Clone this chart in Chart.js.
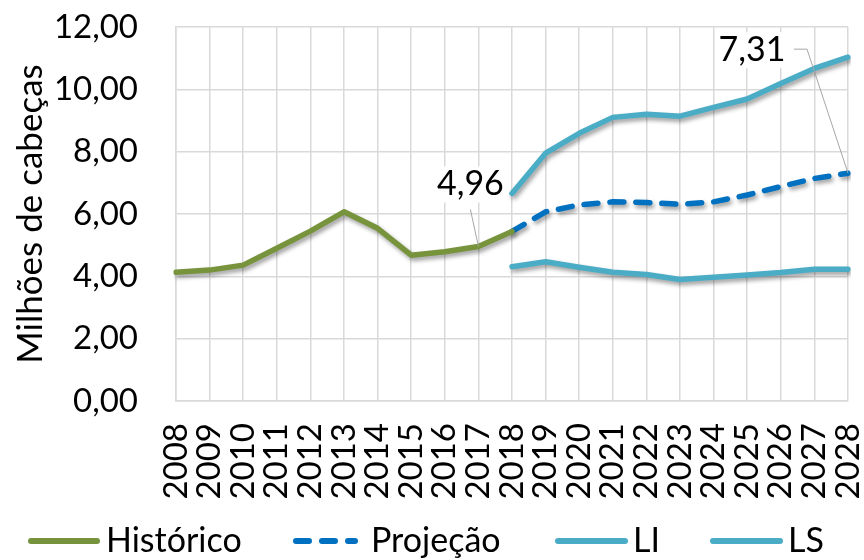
<!DOCTYPE html>
<html>
<head>
<meta charset="utf-8">
<script src="https://cdn.jsdelivr.net/npm/chart.js@4.4.1/dist/chart.umd.min.js"></script>
<style>
html,body{margin:0;padding:0;background:#fff;}
#wrap{width:864px;height:560px;}
</style>
</head>
<body>
<div id="wrap"><canvas id="c" width="864" height="560"></canvas></div>
<script>
const years = ['2008','2009','2010','2011','2012','2013','2014','2015','2016','2017','2018','2019','2020','2021','2022','2023','2024','2025','2026','2027','2028'];
const historico = [4.13, 4.20, 4.36, 4.90, 5.45, 6.07, 5.54, 4.68, 4.79, 4.96, 5.44, null, null, null, null, null, null, null, null, null, null];
const projecao = [null, null, null, null, null, null, null, null, null, null, 5.44, 6.07, 6.29, 6.39, 6.37, 6.31, 6.39, 6.61, 6.88, 7.14, 7.31];
const li = [null, null, null, null, null, null, null, null, null, null, 4.31, 4.47, 4.29, 4.13, 4.06, 3.90, 3.97, 4.04, 4.12, 4.23, 4.23];
const ls = [null, null, null, null, null, null, null, null, null, null, 6.66, 7.95, 8.59, 9.10, 9.20, 9.14, 9.42, 9.69, 10.19, 10.67, 11.03];
const yTicks = [0, 2, 4, 6, 8, 10, 12];
const seriesNames = ['Histórico', 'Projeção', 'LI', 'LS'];
const axisTitle = 'Milhões de cabeças';

const GREEN = '#77933C', BLUE = '#0070C0', TEAL = '#4BACC6';
const FONT = 'Lato, "Open Sans", sans-serif';
const fmt = v => v.toFixed(2).replace('.', ',');

const shadowPlugin = {
  id: 'shadow',
  beforeDatasetDraw(chart) {
    const ctx = chart.ctx;
    ctx.save();
    ctx.shadowColor = 'rgba(0,0,0,0.38)';
    ctx.shadowBlur = 4;
    ctx.shadowOffsetX = 2;
    ctx.shadowOffsetY = 3;
  },
  afterDatasetDraw(chart) { chart.ctx.restore(); }
};

const labelPlugin = {
  id: 'valueLabels',
  afterDatasetsDraw(chart) {
    const ctx = chart.ctx;
    const specs = [
      {ds: 0, idx: 9, dx: -8, dy: -62, leader: (p, t) => [[t.x, t.y + 25], [p.x, p.y]]},
      {ds: 1, idx: 20, dx: -96, dy: -123, leader: (p, t) => [[t.x + 42, t.y - 1], [t.x + 55, t.y - 1], [p.x, p.y]]}
    ];
    specs.forEach(s => {
      const meta = chart.getDatasetMeta(s.ds);
      const el = meta.data[s.idx];
      const val = chart.data.datasets[s.ds].data[s.idx];
      const p = {x: el.x, y: el.y};
      const t = {x: p.x + s.dx, y: p.y + s.dy};
      ctx.save();
      ctx.font = '34px ' + FONT;
      const text = fmt(val);
      const w = ctx.measureText(text).width;
      ctx.fillStyle = '#fff';
      ctx.fillRect(t.x - w / 2 - 3, t.y - 18, w + 6, 36);
      ctx.strokeStyle = '#A6A6A6';
      ctx.lineWidth = 1;
      ctx.beginPath();
      const pts = s.leader(p, t);
      ctx.moveTo(pts[0][0], pts[0][1]);
      for (let i = 1; i < pts.length; i++) ctx.lineTo(pts[i][0], pts[i][1]);
      ctx.stroke();
      ctx.fillStyle = '#000';
      ctx.textAlign = 'center';
      ctx.textBaseline = 'middle';
      ctx.fillText(text, t.x, t.y);
      ctx.restore();
    });
  }
};

const legendPlugin = {
  id: 'customLegend',
  afterDraw(chart) {
    const ctx = chart.ctx;
    const y = 541;
    const items = [
      {ds: 0, x0: 31, x1: 97, tx: 106},
      {ds: 1, x0: 296, x1: 355, tx: 371},
      {ds: 2, x0: 558, x1: 625, tx: 633},
      {ds: 3, x0: 713, x1: 780, tx: 788}
    ];
    ctx.save();
    items.forEach(it => {
      const d = chart.data.datasets[it.ds];
      ctx.strokeStyle = d.borderColor;
      ctx.lineWidth = 6;
      ctx.lineCap = 'round';
      ctx.setLineDash(d.borderDash ? [13, 13] : []);
      ctx.beginPath();
      ctx.moveTo(it.x0, y);
      ctx.lineTo(it.x1, y);
      ctx.stroke();
      ctx.setLineDash([]);
      ctx.fillStyle = '#000';
      ctx.font = '34px ' + FONT;
      ctx.textAlign = 'left';
      ctx.textBaseline = 'middle';
      ctx.fillText(d.label, it.tx, y);
    });
    ctx.restore();
  }
};

const common = {fill: false, tension: 0, pointRadius: 0, pointHoverRadius: 0, borderWidth: 5.5, borderJoinStyle: 'round', borderCapStyle: 'round', spanGaps: false};

new Chart(document.getElementById('c'), {
  type: 'line',
  data: {
    labels: years,
    datasets: [
      Object.assign({label: seriesNames[0], data: historico, borderColor: GREEN}, common),
      Object.assign({label: seriesNames[1], data: projecao, borderColor: BLUE, borderDash: [14, 12]}, common),
      Object.assign({label: seriesNames[2], data: li, borderColor: TEAL}, common),
      Object.assign({label: seriesNames[3], data: ls, borderColor: TEAL}, common)
    ]
  },
  options: {
    responsive: false,
    animation: false,
    events: [],
    layout: {padding: {left: 0, right: 16, top: 27, bottom: 59}},
    plugins: {legend: {display: false}, tooltip: {enabled: false}, title: {display: false}},
    scales: {
      x: {
        grid: {color: '#D9D9D9', lineWidth: 1.5, drawTicks: false, offset: false},
        border: {color: '#D9D9D9', width: 1.5},
        ticks: {autoSkip: false, maxRotation: 90, minRotation: 90, padding: 22, color: '#000', font: {family: FONT, size: 33}},
        afterFit(scale) { scale.height = 100; scale.paddingLeft = 0; scale.paddingRight = 0; }
      },
      y: {
        min: 0, max: 12,
        afterBuildTicks(scale) { scale.ticks = yTicks.map(v => ({value: v})); },
        grid: {color: '#D9D9D9', lineWidth: 1.5, drawTicks: false},
        border: {color: '#D9D9D9', width: 1.5},
        ticks: {padding: 38, color: '#000', font: {family: FONT, size: 33}, callback: v => fmt(v)},
        title: {display: true, text: axisTitle, color: '#000', font: {family: FONT, size: 35}, padding: {top: 10, bottom: 0}},
        afterFit(scale) { scale.width = 176; scale.paddingTop = 0; scale.paddingBottom = 0; }
      }
    }
  },
  plugins: [shadowPlugin, labelPlugin, legendPlugin]
});
</script>
</body>
</html>
